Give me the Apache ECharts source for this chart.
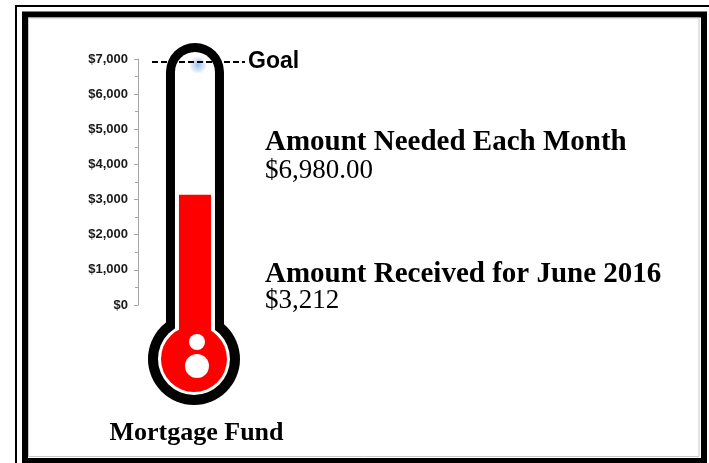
<!DOCTYPE html>
<html><head><meta charset="utf-8">
<script src="https://cdn.jsdelivr.net/npm/echarts@6/dist/echarts.min.js"></script>
<style>html,body{margin:0;padding:0;background:#fff}#c{width:709px;height:463px}</style>
</head><body><div id="c"></div>
<script>
// ---- data ----
const categories = ['Mortgage Fund'];
const raisedValues = [3140];
const goalValue = 6930;
const yTicks = [0, 1000, 2000, 3000, 4000, 5000, 6000, 7000];
const neededTitle = 'Amount Needed Each Month';
const neededText = '$6,980.00';
const receivedTitle = 'Amount Received for June 2016';
const receivedText = '$3,212';
const goalLabel = 'Goal';

const chart = echarts.init(document.getElementById('c'), null, {renderer: 'canvas'});
const fmt = v => '$' + v.toLocaleString('en-US');

chart.setOption({
  animation: false,
  backgroundColor: '#fff',
  grid: {left: 152, right: 464, top: 59, bottom: 158},
  xAxis: {type: 'category', data: categories, show: false},
  yAxis: {
    type: 'value', min: yTicks[0], max: yTicks[yTicks.length - 1], interval: 1000,
    offset: 14,
    axisLine: {show: true, lineStyle: {color: '#a6a6a6', width: 1}},
    axisTick: {show: true, length: 4, lineStyle: {color: '#a6a6a6'}},
    minorTick: {show: true, splitNumber: 2, length: 3, lineStyle: {color: '#a6a6a6'}},
    splitLine: {show: false},
    axisLabel: {formatter: fmt, margin: 10, color: '#1a1a1a', fontFamily: 'Liberation Sans, Arial', fontWeight: 'bold', fontSize: 13}
  },
  series: [{
    type: 'bar', data: raisedValues, barWidth: 32, barGap: '-78%',
    itemStyle: {color: '#ff0000'}, silent: true, z: 3,
    markLine: {
      silent: true, symbol: ['none', 'none'],
      lineStyle: {color: '#000', type: [6, 3], width: 2},
      label: {show: true, position: 'end', formatter: goalLabel, distance: 3,
        fontFamily: 'Liberation Sans, Arial', fontWeight: 'bold', fontSize: 23, color: '#000'},
      data: [{yAxis: goalValue}]
    }
  }, {
    type: 'bar', data: ['-'], barWidth: 32, silent: true
  }]
});

const layout = chart.getModel().getSeriesByIndex(0).getData().getItemLayout(0);
const cx = layout.x + layout.width / 2;
const y0 = chart.convertToPixel({yAxisIndex: 0}, 0);
const serif = '"Liberation Serif", "Times New Roman", serif';

chart.setOption({
  graphic: [
    // frame
    {type: 'rect', id: 'f1', shape: {x: 16, y: 6, width: 800, height: 800}, style: {fill: 'none', stroke: '#000', lineWidth: 2}},
    {type: 'rect', id: 'f2', shape: {x: 25, y: 14.5, width: 679, height: 446.5}, style: {fill: 'none', stroke: '#000', lineWidth: 6}},
    {type: 'rect', id: 'f3', shape: {x: 28.5, y: 18, width: 670.5, height: 438.5}, style: {fill: 'none', stroke: '#c8c8c8', lineWidth: 1}},
    // thermometer
    {type: 'rect', id: 't1', shape: {x: cx - 29, y: y0 - 262, width: 58, height: 300, r: [29, 29, 0, 0]}, style: {fill: '#000'}},
    {type: 'circle', id: 't2', shape: {cx: cx - 1, cy: y0 + 54, r: 46}, style: {fill: '#000'}},
    {type: 'rect', id: 't3', shape: {x: cx - 20, y: y0 - 253, width: 40, height: 290, r: [20, 20, 0, 0]}, style: {fill: '#fff'}},
    {type: 'circle', id: 't4', shape: {cx: cx - 1, cy: y0 + 54, r: 36}, style: {fill: '#fff'}},
    {type: 'ellipse', id: 'gl', shape: {cx: cx + 3, cy: y0 - 240, rx: 16, ry: 9},
      style: {fill: new echarts.graphic.RadialGradient(0.5, 0.5, 0.5, [{offset: 0, color: 'rgba(120,170,225,0.75)'}, {offset: 0.6, color: 'rgba(160,195,235,0.45)'}, {offset: 1, color: 'rgba(160,195,235,0)'}])}},
    {type: 'rect', id: 't5', shape: {x: cx - 16, y: y0 - 1, width: 32, height: 56}, style: {fill: '#ff0000'}},
    {type: 'circle', id: 't6', shape: {cx: cx - 1, cy: y0 + 54, r: 33}, style: {fill: '#ff0000'}},
    {type: 'circle', id: 't7', shape: {cx: cx + 2, cy: y0 + 37, r: 8}, style: {fill: '#fff'}},
    {type: 'circle', id: 't8', shape: {cx: cx + 2, cy: y0 + 61, r: 12}, style: {fill: '#fff'}},
    // texts
    {type: 'text', id: 'x1', x: 265, y: 142.5, style: {text: neededTitle, font: 'bold 29px ' + serif, fill: '#000', align: 'left', verticalAlign: 'middle'}},
    {type: 'text', id: 'x2', x: 265, y: 171, style: {text: neededText, font: '27px ' + serif, fill: '#000', align: 'left', verticalAlign: 'middle'}},
    {type: 'text', id: 'x3', x: 265, y: 275, style: {text: receivedTitle, font: 'bold 29px ' + serif, fill: '#000', align: 'left', verticalAlign: 'middle'}},
    {type: 'text', id: 'x4', x: 265, y: 301, style: {text: receivedText, font: '27px ' + serif, fill: '#000', align: 'left', verticalAlign: 'middle'}},
    {type: 'text', id: 'x5', x: 196.5, y: 433.5, style: {text: categories[0], font: 'bold 26px ' + serif, fill: '#000', align: 'center', verticalAlign: 'middle'}}
  ]
});
</script>
</body></html>
